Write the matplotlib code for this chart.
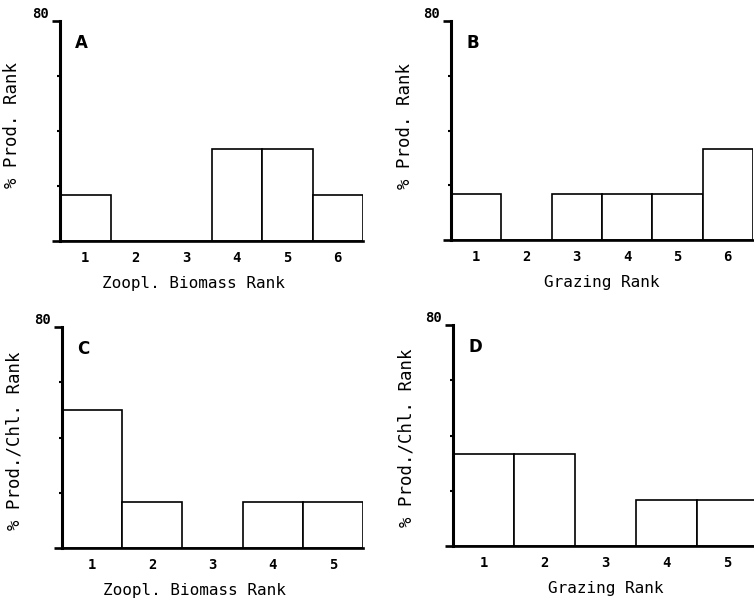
import matplotlib
matplotlib.use("Agg")
import matplotlib.pyplot as plt
from matplotlib.ticker import FixedLocator

# percent of lakes in each rank class (6 lakes -> steps of 16.7 %)
zoopl_ranks_6 = [1, 2, 3, 4, 5, 6]
prod_by_zoopl = [16.7, 0, 0, 33.3, 33.3, 16.7]

grazing_ranks_6 = [1, 2, 3, 4, 5, 6]
prod_by_grazing = [16.7, 0, 16.7, 16.7, 16.7, 33.3]

zoopl_ranks_5 = [1, 2, 3, 4, 5]
pchl_by_zoopl = [50.0, 16.7, 0, 16.7, 16.7]

grazing_ranks_5 = [1, 2, 3, 4, 5]
pchl_by_grazing = [33.3, 33.3, 0, 16.7, 16.7]

mono = "DejaVu Sans Mono"

fig = plt.figure(figsize=(7.54, 6.02), dpi=100)

panels = [
    # rect, ranks, values, letter, xlabel, ylabel, xlabel x, ylabel coords
    ([0.0796, 0.5997, 0.4019, 0.3654], zoopl_ranks_6, prod_by_zoopl, "A",
     "Zoopl. Biomass Rank", "% Prod. Rank", 0.44, (-0.158, 0.527)),
    ([0.5981, 0.6013, 0.4005, 0.3638], grazing_ranks_6, prod_by_grazing, "B",
     "Grazing Rank", "% Prod. Rank", 0.5, (-0.152, 0.52)),
    ([0.0822, 0.0897, 0.3992, 0.3671], zoopl_ranks_5, pchl_by_zoopl, "C",
     "Zoopl. Biomass Rank", "% Prod./Chl. Rank", 0.44, (-0.159, 0.484)),
    ([0.6008, 0.0930, 0.4045, 0.3671], grazing_ranks_5, pchl_by_grazing, "D",
     "Grazing Rank", "% Prod./Chl. Rank", 0.5, (-0.151, 0.49)),
]

for rect, ranks, vals, letter, xlab, ylab, xlab_x, ylab_xy in panels:
    ax = fig.add_axes(rect)
    ax.bar(ranks, vals, width=1.0, facecolor="white", edgecolor="black",
           linewidth=1.2, zorder=2)
    ax.set_xlim(0.5, len(ranks) + 0.5)
    ax.set_ylim(0, 80)

    for side in ["top", "right"]:
        ax.spines[side].set_visible(False)
    ax.spines["left"].set_linewidth(2.2)
    ax.spines["bottom"].set_linewidth(1.9)
    ax.spines["left"].set_zorder(3)
    ax.spines["bottom"].set_zorder(3)

    ax.set_xticks(ranks)
    ax.set_xticklabels([str(r) for r in ranks], family=mono,
                       fontweight="bold", fontsize=10)
    ax.tick_params(axis="x", length=0, pad=7)

    ax.yaxis.set_major_locator(FixedLocator([0, 80]))
    ax.yaxis.set_minor_locator(FixedLocator([20, 40, 60]))
    ax.set_yticklabels(["", "80"], family=mono, fontweight="bold",
                       fontsize=10, va="bottom")
    ax.tick_params(axis="y", which="major", length=6, width=1.9, pad=2)
    ax.tick_params(axis="y", which="minor", length=2, width=1.5)

    ax.set_xlabel(xlab, family=mono, fontsize=11.5)
    ax.xaxis.set_label_coords(xlab_x, -0.16)
    ax.set_ylabel(ylab, family=mono, fontsize=12.5, va="center")
    ax.yaxis.set_label_coords(*ylab_xy)

    ax.text(0.072, 0.90, letter, transform=ax.transAxes, ha="center",
            va="center", fontsize=12, fontweight="bold")

fig.savefig("out.png", dpi=100)
